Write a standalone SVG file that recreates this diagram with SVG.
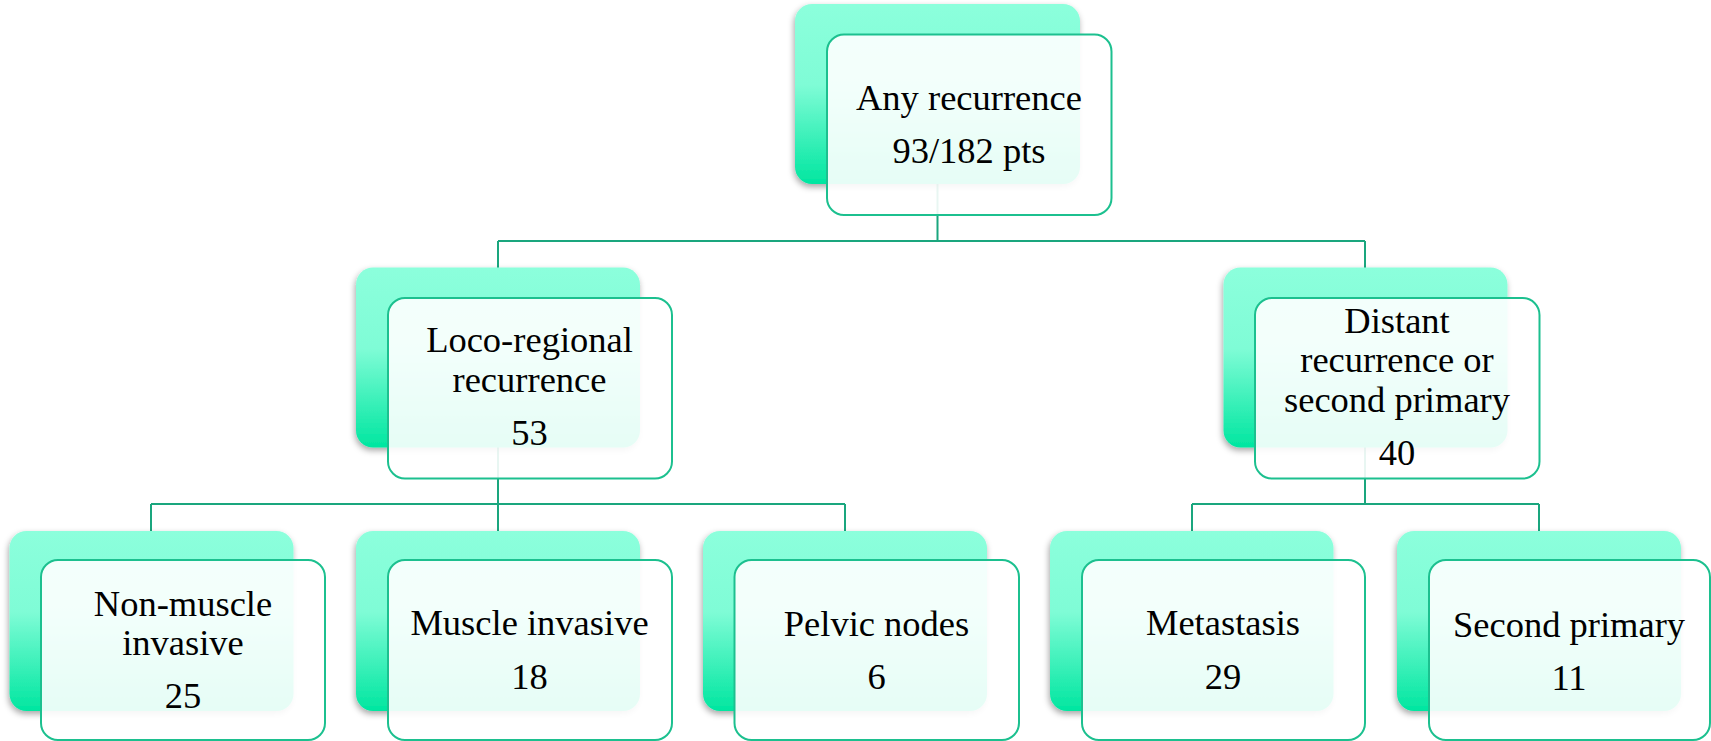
<svg xmlns="http://www.w3.org/2000/svg" width="1711" height="741" viewBox="0 0 1711 741">
<defs>
<linearGradient id="g" x1="0" y1="0" x2="0" y2="1">
<stop offset="0" stop-color="#8cffdc"/>
<stop offset="0.45" stop-color="#7ffcd6"/>
<stop offset="1" stop-color="#00e6a0"/>
</linearGradient>
<filter id="sh" x="-10%" y="-10%" width="120%" height="125%">
<feDropShadow dx="-1" dy="3" stdDeviation="3" flood-color="#000" flood-opacity="0.35"/>
</filter>
</defs>
<style>
.back{fill:url(#g);filter:url(#sh);}
.front{fill:#ffffff;fill-opacity:0.9;stroke:#1cc08f;stroke-width:2;}
.conn{fill:none;stroke:#1aa67e;stroke-width:2;}
text{font-family:"Liberation Serif","Times New Roman",serif;font-size:36.5px;fill:#000;text-anchor:middle;}
</style>
<rect width="1711" height="741" fill="#fff"/>
<g id="connectors" class="conn">
<path d="M937.5 184 V241 M498 241 H1365 M498 241 V268 M1365 241 V268"/>
<path d="M498 447 V504 M151 504 H845 M151 504 V531 M498 504 V531 M845 504 V531"/>
<path d="M1365 447 V504 M1192 504 H1539 M1192 504 V531 M1539 504 V531"/>
</g>
<g id="n-any">
<rect class="back" x="795" y="4" width="285" height="180" rx="17"/>
<rect class="front" x="827" y="34.5" width="284.5" height="180.5" rx="17"/>
<text x="969" y="110">Any recurrence</text>
<text x="969" y="163">93/182 pts</text>
</g>
<g id="n-loco">
<rect class="back" x="356" y="267.5" width="284" height="180" rx="17"/>
<rect class="front" x="388" y="298" width="284" height="180.5" rx="17"/>
<text x="529.5" y="351.7">Loco-regional</text>
<text x="529.5" y="391.7">recurrence</text>
<text x="529.5" y="445">53</text>
</g>
<g id="n-distant">
<rect class="back" x="1223.5" y="267.5" width="284" height="180" rx="17"/>
<rect class="front" x="1255" y="298" width="284.5" height="180.5" rx="17"/>
<text x="1397" y="333.3">Distant</text>
<text x="1397" y="371.7">recurrence or</text>
<text x="1397" y="411.7">second primary</text>
<text x="1397" y="465">40</text>
</g>
<g id="n-nonmuscle">
<rect class="back" x="9.5" y="531" width="284" height="180" rx="17"/>
<rect class="front" x="41" y="560" width="284" height="180" rx="17"/>
<text x="183" y="616">Non-muscle</text>
<text x="183" y="655">invasive</text>
<text x="183" y="708.3">25</text>
</g>
<g id="n-muscle">
<rect class="back" x="356" y="531" width="284" height="180" rx="17"/>
<rect class="front" x="388" y="560" width="284" height="180" rx="17"/>
<text x="529.5" y="635">Muscle invasive</text>
<text x="529.5" y="689.3">18</text>
</g>
<g id="n-pelvic">
<rect class="back" x="703" y="531" width="284" height="180" rx="17"/>
<rect class="front" x="734.5" y="560" width="284.5" height="180" rx="17"/>
<text x="876.5" y="635.5">Pelvic nodes</text>
<text x="876.5" y="689.3">6</text>
</g>
<g id="n-meta">
<rect class="back" x="1050" y="531" width="283.5" height="180" rx="17"/>
<rect class="front" x="1082" y="560" width="283" height="180" rx="17"/>
<text x="1223" y="635">Metastasis</text>
<text x="1223" y="689.3">29</text>
</g>
<g id="n-second">
<rect class="back" x="1397" y="531" width="284" height="180" rx="17"/>
<rect class="front" x="1429" y="560" width="281" height="180" rx="17"/>
<text x="1569" y="636.7">Second primary</text>
<text x="1569" y="690">11</text>
</g>
</svg>
